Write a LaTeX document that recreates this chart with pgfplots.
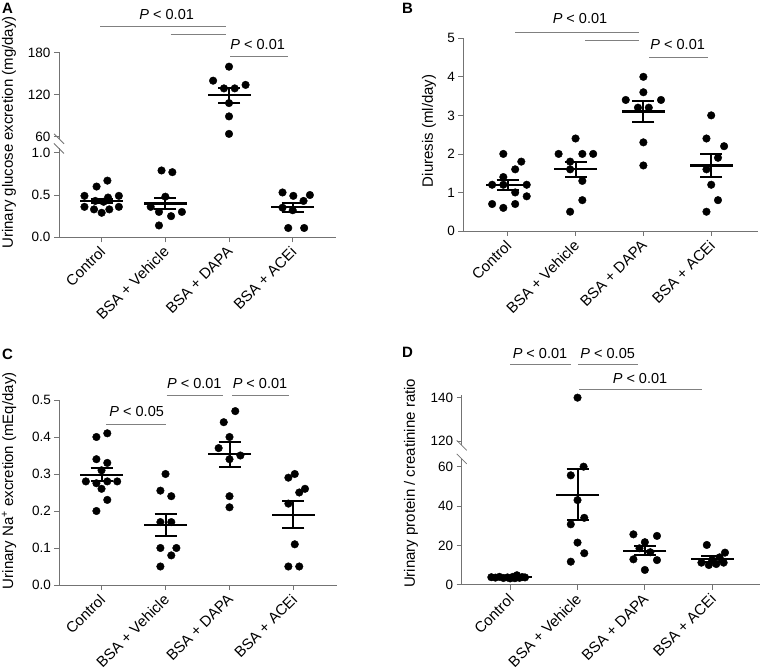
\documentclass[border=0pt]{standalone}
\usepackage{fontspec}
\setmainfont{Liberation Sans}
\usepackage{pgfplots}
\pgfplotsset{compat=1.18}
\definecolor{axgray}{gray}{0.45}
\definecolor{siggray}{gray}{0.5}
\newcommand{\tickfont}{\fontsize{13.5}{13.5}\selectfont}
\newcommand{\catfont}{\fontsize{15}{15}\selectfont}
\newcommand{\labfont}{\fontsize{15}{15}\selectfont}
\newcommand{\pfont}{\fontsize{14.5}{14.5}\selectfont}
\pgfplotsset{
  base/.style={scale only axis, clip=false, anchor=south west,
    axis y line*=left, axis line style={axgray, line width=0.8pt},
    tick style={axgray, line width=0.8pt}, tick align=outside, major tick length=5pt,
    yticklabel style={font=\tickfont, text=black},
    /pgf/number format/assume math mode=true},
  lower/.style={base, axis x line*=bottom, xtick={0,1,2,3},
    xticklabels={Control, BSA + Vehicle, BSA + DAPA, BSA + ACEi},
    xticklabel style={xshift=-3pt, rotate=45, anchor=north east, font=\catfont, text=black, inner sep=2pt}},
  upper/.style={base, axis x line=none, xtick=\empty},
  pts/.style={only marks, mark=*, mark size=3.8pt, black, mark options={fill=black, draw=black}},
  msem/.style={only marks, black, line width=2.2pt, mark=-, mark size=21.5pt, mark options={line width=2.2pt, black},
     error bars/.cd, y dir=both, y explicit, error bar style={line width=2pt, black},
     error mark options={rotate=90, mark size=11pt, line width=2pt, black}},
}
\begin{document}
\begin{tikzpicture}[x=1pt,y=1pt]
\useasboundingbox (0,0) rectangle (760,669);

% ---------------- Panel A ----------------
\begin{axis}[upper, at={(59pt,530.2pt)}, width=277pt, height=87.15pt,
  xmin=-0.67, xmax=3.68, ymin=57, ymax=181.5, ytick={60,120,180}, yticklabels={60,120,180}]
\addplot[pts] coordinates {(2,160) (1.75,140) (2.26,134) (1.92,129) (2.09,129) (2,108) (2,89) (2,64)};
\addplot[msem] coordinates {(2,119) +- (0,11)};
\end{axis}
\begin{axis}[lower, at={(59pt,431.7pt)}, width=277pt, height=88.8pt,
  xmin=-0.67, xmax=3.68, ymin=0, ymax=1.05, ytick={0,0.5,1}, yticklabels={0.0,0.5,1.0}]
\addplot[pts] coordinates {(0.09,0.67) (-0.08,0.60) (-0.27,0.49) (0.10,0.47) (0.27,0.49) (-0.10,0.43) (0.03,0.42) (-0.27,0.36) (0.27,0.36) (-0.12,0.33) (0.12,0.33) (0,0.29)};
\addplot[pts] coordinates {(0.94,0.79) (1.11,0.77) (1,0.48) (0.77,0.36) (0.9,0.30) (1.09,0.25) (1.26,0.30) (0.9,0.14)};
\addplot[pts] coordinates {(2.84,0.53) (3.01,0.49) (3.27,0.50) (3.17,0.43) (2.84,0.35) (3.0,0.32) (2.93,0.11) (3.18,0.11)};
\addplot[msem] coordinates {(0,0.43) +- (0,0.025) (1,0.40) +- (0,0.07) (3,0.355) +- (0,0.055)};
\end{axis}
\draw[axgray, line width=0.8pt] (54,535.2) -- (64,525.2);
\draw[axgray, line width=0.8pt] (54,525.5) -- (64,515.5);
\node[rotate=90, font=\labfont] at (9,536.5) {Urinary glucose excretion (mg/day)};
\node[font=\bfseries\fontsize{15}{15}\selectfont] at (7.5,661) {A};
\node[font=\pfont] at (166.7,654) {\textit{P} < 0.01};
\draw[siggray, line width=0.8pt] (100,642.3) -- (225.7,642.3);
\draw[siggray, line width=0.8pt] (170.7,634.7) -- (225.7,634.7);
\node[font=\pfont] at (257.7,624) {\textit{P} < 0.01};
\draw[siggray, line width=0.8pt] (230,612.3) -- (287.7,612.3);

% ---------------- Panel B ----------------
\begin{axis}[lower, at={(463.3pt,438pt)}, width=294.7pt, height=192.7pt,
  xmin=-0.655, xmax=3.69, ymin=0, ymax=5, ytick={0,1,2,3,4,5}, yticklabels={0,1,2,3,4,5}]
\addplot[pts] coordinates {(-0.065,2.0) (0.2,1.8) (0.11,1.6) (-0.065,1.4) (-0.23,1.2) (-0.065,1.2) (0.28,1.2) (0.11,1.0) (0.28,0.9) (-0.23,0.7) (-0.065,0.6) (0.11,0.7)};
\addplot[pts] coordinates {(1,2.4) (0.75,2.0) (1.1,2.0) (1.26,2.0) (0.92,1.8) (0.92,1.6) (1.1,1.3) (1.1,0.8) (0.92,0.5)};
\addplot[pts] coordinates {(2,4.0) (2,3.6) (1.74,3.4) (2.26,3.4) (1.92,3.2) (2.08,3.2) (2,2.3) (2,1.7)};
\addplot[pts] coordinates {(3,3.0) (2.93,2.4) (3.19,2.2) (3.1,1.9) (2.93,1.6) (3,1.2) (3.1,0.8) (2.93,0.5)};
\addplot[msem] coordinates {(0,1.19) +- (0,0.13) (1,1.6) +- (0,0.2) (2,3.1) +- (0,0.27) (3,1.7) +- (0,0.3)};
\end{axis}
\node[rotate=90, font=\labfont] at (429,538.2) {Diuresis (ml/day)};
\node[font=\bfseries\fontsize{15}{15}\selectfont] at (407.5,660.7) {B};
\node[font=\pfont] at (580,650) {\textit{P} < 0.01};
\draw[siggray, line width=0.8pt] (515,637) -- (639.3,637);
\draw[siggray, line width=0.8pt] (585,628.7) -- (639.3,628.7);
\node[font=\pfont] at (677.7,624) {\textit{P} < 0.01};
\draw[siggray, line width=0.8pt] (649.3,611.7) -- (708.3,611.7);

% ---------------- Panel C ----------------
\begin{axis}[lower, at={(59.3pt,84pt)}, width=277.7pt, height=185pt,
  xmin=-0.66, xmax=3.68, ymin=0, ymax=0.5, ytick={0,0.1,0.2,0.3,0.4,0.5}, yticklabels={0.0,0.1,0.2,0.3,0.4,0.5}]
\addplot[pts] coordinates {(-0.08,0.40) (0.09,0.41) (-0.08,0.34) (0.09,0.33) (0,0.31) (-0.245,0.28) (-0.08,0.275) (0.09,0.28) (0.245,0.28) (0,0.26) (0.09,0.23) (-0.08,0.20)};
\addplot[pts] coordinates {(1,0.30) (0.92,0.255) (1.09,0.24) (0.92,0.17) (1.09,0.17) (0.92,0.10) (1.17,0.10) (1.09,0.08) (0.92,0.05)};
\addplot[pts] coordinates {(2.09,0.47) (1.91,0.44) (2,0.40) (1.83,0.37) (2.17,0.35) (2,0.34) (2,0.24) (2,0.21)};
\addplot[pts] coordinates {(2.92,0.29) (3.02,0.30) (3.09,0.25) (3.18,0.26) (2.92,0.22) (3.02,0.11) (2.92,0.05) (3.09,0.05)};
\addplot[msem] coordinates {(0,0.298) +- (0,0.017) (1,0.163) +- (0,0.03) (2,0.353) +- (0,0.033) (3,0.19) +- (0,0.037)};
\end{axis}
\node[rotate=90, font=\labfont] at (9,188.2) {Urinary Na\textsuperscript{+} excretion (mEq/day)};
\node[font=\bfseries\fontsize{15}{15}\selectfont] at (7.5,315) {C};
\node[font=\pfont] at (194.3,285.7) {\textit{P} < 0.01};
\draw[siggray, line width=0.8pt] (166.7,273.3) -- (223.3,273.3);
\node[font=\pfont] at (260,285.7) {\textit{P} < 0.01};
\draw[siggray, line width=0.8pt] (232.3,273.3) -- (289,273.3);
\node[font=\pfont] at (136.7,257.3) {\textit{P} < 0.05};
\draw[siggray, line width=0.8pt] (106,244.7) -- (165.7,244.7);

% ---------------- Panel D ----------------
\begin{axis}[upper, at={(461.7pt,223.7pt)}, width=298.3pt, height=49.8pt,
  xmin=-0.72, xmax=3.71, ymin=118, ymax=141, ytick={120,140}, yticklabels={120,140}]
\addplot[pts] coordinates {(1,140)};
\end{axis}
\begin{axis}[lower, at={(461.7pt,84.3pt)}, width=298.3pt, height=125.9pt,
  xmin=-0.72, xmax=3.71, ymin=0, ymax=64, ytick={0,20,40,60}, yticklabels={0,20,40,60}]
\addplot[pts] coordinates {(-0.28,3.8) (-0.22,3.6) (-0.16,4.0) (-0.1,3.4) (-0.04,3.7) (0.0,3.2) (0.04,4.0) (0.1,4.8) (0.14,3.5) (0.18,3.9) (0.22,3.7) (0.07,3.3)};
\addplot[pts] coordinates {(1.09,60) (0.9,55.6) (1,43) (1.1,34) (0.9,30.7) (1,21.4) (1.1,16) (0.9,11.7)};
\addplot[pts] coordinates {(1.83,25.6) (2.18,24.8) (2,21.6) (1.92,18.5) (2.08,16.5) (1.83,12.9) (2.18,12.5) (2,7.5)};
\addplot[pts] coordinates {(2.92,20.2) (3.19,16.3) (3.11,13.9) (2.84,11.2) (2.95,10.0) (3.06,10.5) (3.17,11.2) (3.0,12.5)};
\addplot[msem] coordinates {(0,3.8) +- (0,0.3) (1,45.8) +- (0,13) (2,17.3) +- (0,2.4) (3,13.05) +- (0,1.3)};
\end{axis}
\draw[axgray, line width=0.8pt] (456.7,228.7) -- (466.7,218.7);
\draw[axgray, line width=0.8pt] (456.7,215.2) -- (466.7,205.2);
\node[rotate=90, font=\labfont] at (411,185.7) {Urinary protein / creatinine ratio};
\node[font=\bfseries\fontsize{15}{15}\selectfont] at (407.5,316.5) {D};
\node[font=\pfont] at (540,315) {\textit{P} < 0.01};
\draw[siggray, line width=0.8pt] (510,304.7) -- (570.7,304.7);
\node[font=\pfont] at (607.7,315) {\textit{P} < 0.05};
\draw[siggray, line width=0.8pt] (578.3,304.7) -- (638.3,304.7);
\node[font=\pfont] at (640,290.7) {\textit{P} < 0.01};
\draw[siggray, line width=0.8pt] (579,279.7) -- (701.7,279.7);
\end{tikzpicture}
\end{document}
